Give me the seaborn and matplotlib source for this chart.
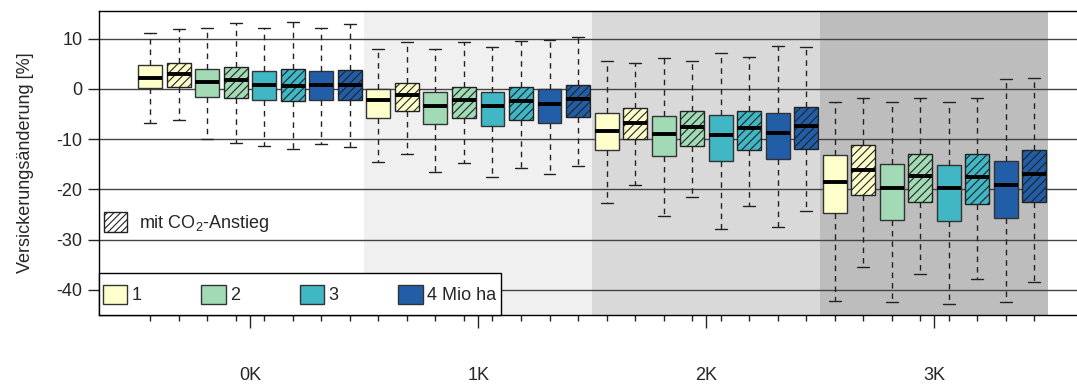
import numpy as np
import pandas as pd
import matplotlib
matplotlib.use("Agg")
import matplotlib.pyplot as plt
from matplotlib.patches import Patch, PathPatch, Rectangle
import seaborn as sns

# warming scenarios (one group of 8 boxes each)
warming = ["0K", "1K", "2K", "3K"]
# forest conversion area per box, each as plain / with CO2 increase
sizes = ["1", "2", "3", "4 Mio ha"]
co2 = [False, True] * 16

# five-number summaries, 32 boxes in plot order
whisk_hi = [11.1, 11.9, 12.2, 13.2, 12.2, 13.4, 12.2, 12.9,
            8.0, 9.4, 8.0, 9.4, 8.3, 9.6, 9.8, 10.3,
            5.6, 5.1, 6.2, 5.6, 7.2, 6.4, 8.6, 8.4,
            -2.6, -1.9, -2.6, -1.9, -2.6, -1.9, 2.0, 2.2]
q3 = [4.7, 5.2, 3.9, 4.3, 3.6, 3.9, 3.6, 3.7,
      0.0, 1.1, -0.7, 0.3, -0.7, 0.3, -0.1, 0.7,
      -4.8, -3.8, -5.3, -4.4, -5.2, -4.4, -4.7, -3.6,
      -13.1, -11.2, -15.0, -13.0, -15.1, -13.0, -14.3, -12.1]
median = [2.25, 3.0, 1.4, 1.7, 0.8, 0.5, 0.8, 0.7,
          -2.3, -1.2, -3.4, -2.2, -3.5, -2.4, -3.1, -2.1,
          -8.4, -6.7, -9.0, -7.6, -9.1, -7.8, -8.7, -7.4,
          -18.5, -16.1, -19.7, -17.3, -19.7, -17.5, -19.2, -17.0]
q1 = [0.1, 0.4, -1.65, -1.8, -2.3, -2.5, -2.2, -2.3,
      -5.8, -4.5, -7.0, -5.8, -7.4, -6.2, -6.8, -5.6,
      -12.2, -10.0, -13.3, -11.4, -14.3, -12.2, -13.9, -11.9,
      -24.8, -21.2, -26.0, -22.5, -26.2, -23.0, -25.6, -22.6]
whisk_lo = [-6.8, -6.2, -10.0, -10.7, -11.3, -12.0, -11.0, -11.5,
            -14.5, -12.9, -16.5, -14.8, -17.5, -15.8, -16.9, -15.3,
            -22.8, -19.1, -25.2, -21.5, -27.9, -23.4, -27.5, -24.3,
            -42.2, -35.5, -42.4, -36.8, -42.9, -37.9, -42.4, -38.4]

palette = ["#ffffcc", "#a1dab4", "#41b6c4", "#225ea8"]
shades = ["#f0f0f0", "#d9d9d9", "#bdbdbd"]

# long table: the five summary values of each box as its data points
rows = []
for i in range(32):
    for v in (whisk_lo[i], q1[i], median[i], q3[i], whisk_hi[i]):
        rows.append({"slot": i, "size": sizes[(i % 8) // 2], "val": v})
df = pd.DataFrame(rows)

sns.set_style("ticks")
plt.rcParams["font.family"] = ["Liberation Sans", "DejaVu Sans"]
plt.rcParams["mathtext.default"] = "regular"
plt.rcParams["axes.unicode_minus"] = False
plt.rcParams["hatch.linewidth"] = 0.8
plt.rcParams["font.size"] = 13

fig = plt.figure(figsize=(10.77, 3.85), dpi=100)
ax = fig.add_axes([99 / 1077, 70 / 385, 1 - 99 / 1077, 304 / 385])

# background shading for the warming levels
for k, c in enumerate(shades):
    ax.axvspan(7.5 + 8 * k, 15.5 + 8 * k, color=c, lw=0, zorder=0)

sns.boxplot(data=df, x="slot", y="val", hue="size", hue_order=sizes,
            palette=palette, saturation=1, dodge=False, width=0.84,
            whis=(0, 100), showfliers=False, linecolor="#333333",
            linewidth=1, legend=False, ax=ax,
            medianprops={"color": "black", "linewidth": 2.8},
            whiskerprops={"color": "#222222", "linestyle": (0, (4, 3.5))},
            capprops={"color": "#222222"})

# hatch the boxes with CO2 increase
for p in ax.patches:
    if isinstance(p, PathPatch):
        slot = int(round(p.get_path().vertices[:, 0].mean()))
        if 0 <= slot < 32 and co2[slot]:
            p.set_hatch("////")
            p.set_edgecolor("#222222")

ax.set_xlim(-1.8, 32.5)
ax.set_ylim(-45.0, 15.5)
ax.set_yticks(np.arange(-40, 11, 10))
ax.yaxis.grid(True, color="#444444", linewidth=1)
ax.set_axisbelow(True)

ax.set_xticks([3.5, 11.5, 19.5, 27.5], warming)
ax.set_xticks(np.arange(32), minor=True)
ax.tick_params(axis="x", which="major", length=9.5, width=1, pad=28)
ax.tick_params(axis="x", which="minor", length=4, width=1)
ax.tick_params(axis="y", length=8, width=1, pad=4)
ax.set_xlabel("")
ax.set_ylabel("Versickerungsänderung [%]", labelpad=16)

for s in ["left", "top", "bottom"]:
    ax.spines[s].set_color("black")
    ax.spines[s].set_linewidth(1)
ax.spines["right"].set_visible(False)

# legend box for the area classes
ax.add_patch(Rectangle((0, 0), 402 / 978, 42 / 304, transform=ax.transAxes,
                       facecolor="white", edgecolor="black", lw=1,
                       zorder=4.5, clip_on=False))
size_handles = [Patch(facecolor=c, edgecolor="#333333", lw=1) for c in palette]
leg1 = ax.legend(size_handles, sizes, loc="center left",
                 bbox_to_anchor=(4 / 978, 20.5 / 304), ncol=4, frameon=False,
                 handlelength=1.35, handleheight=1.3, handletextpad=0.25,
                 columnspacing=3.3, borderpad=0, borderaxespad=0, fontsize=13)
ax.add_artist(leg1)

co2_handle = Patch(facecolor="white", edgecolor="#222222", lw=1, hatch="/////")
ax.legend([co2_handle], ["mit CO$_2$-Anstieg"], loc="center left",
          bbox_to_anchor=(5 / 978, 92 / 304), frameon=False, handlelength=1.3,
          handleheight=1.3, handletextpad=0.65, borderpad=0, borderaxespad=0,
          fontsize=13)

plt.savefig("out.png", dpi=100)
plt.close()
